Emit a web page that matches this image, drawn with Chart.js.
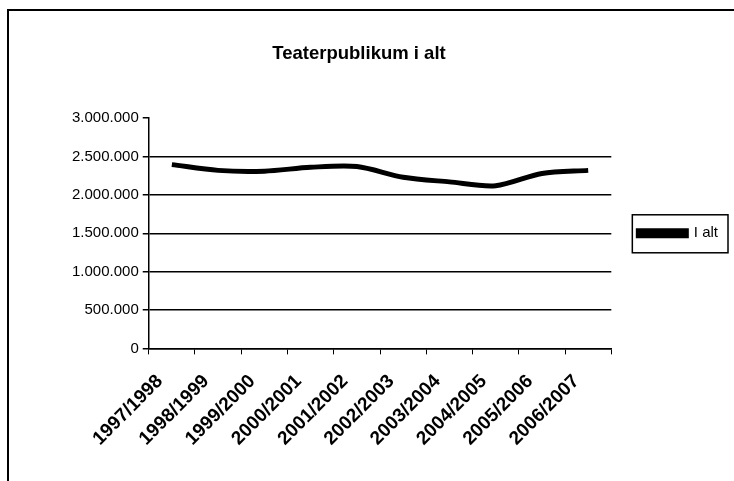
<!DOCTYPE html>
<html>
<head>
<meta charset="utf-8">
<script src="https://cdn.jsdelivr.net/npm/chart.js@4"></script>
<style>
    html, body { margin: 0; padding: 0; background: #fff; }
    #wrap { position: relative; width: 734px; height: 481px; }
</style>
</head>
<body>
<div id="wrap"><canvas id="chart" width="734" height="481"></canvas></div>
<script>
    // sæsoner og publikumstal
    var seasons = ['1997/1998', '1998/1999', '1999/2000', '2000/2001', '2001/2002',
                   '2002/2003', '2003/2004', '2004/2005', '2005/2006', '2006/2007'];
    var publikum = [2395000, 2320000, 2310000, 2360000, 2370000,
                    2230000, 2170000, 2120000, 2280000, 2320000];
    var seriesName = 'I alt';
    var chartTitle = 'Teaterpublikum i alt';
    var yMax = 3000000;

    function formatDots(v) {
        return String(v).replace(/\B(?=(\d{3})+(?!\d))/g, '.');
    }

    // ramme rundt om diagram og forklaring
    var framePlugin = {
        id: 'frame',
        afterLayout: function(chart) {
            // titel centreres over hele rammen, ikke kun plotområdet
            var tb = chart.titleBlock;
            if (tb) {
                var shift = (tb.left + tb.right) / 2 - 359;
                tb.left -= shift;
                tb.right -= shift;
            }
            // forklaringen centreres lodret ud for plotområdet
            var lg = chart.legend;
            var area = chart.chartArea;
            if (lg && area) {
                var d = (lg.top + lg.bottom) / 2 - (area.top + area.bottom) / 2;
                lg.top -= d;
                lg.bottom -= d;
            }
        },
        beforeDraw: function(chart) {
            var ctx = chart.ctx;
            ctx.save();
            ctx.fillStyle = '#fff';
            ctx.fillRect(0, 0, chart.width, chart.height);
            ctx.strokeStyle = '#000';
            ctx.lineWidth = 2;
            ctx.beginPath();
            ctx.moveTo(8, chart.height);
            ctx.lineTo(8, 10);
            ctx.lineTo(chart.width, 10);
            ctx.stroke();
            ctx.restore();
        },
        afterDraw: function(chart) {
            var lg = chart.legend;
            if (!lg || !lg.legendHitBoxes.length) return;
            var hb = lg.legendHitBoxes[0];
            var ctx = chart.ctx;
            ctx.save();
            ctx.strokeStyle = '#000';
            ctx.lineWidth = 1.5;
            ctx.strokeRect(hb.left - 6, hb.top - 11, hb.width + 16, 38);
            ctx.restore();
        }
    };

    new Chart(document.getElementById('chart'), {
        type: 'line',
        data: {
            labels: seasons,
            datasets: [{
                label: seriesName,
                data: publikum,
                borderColor: '#000',
                backgroundColor: '#000',
                borderWidth: 5,
                pointRadius: 0,
                tension: 0.3,
                fill: false
            }]
        },
        options: {
            responsive: false,
            animation: false,
            layout: {
                padding: { left: 68, right: 6, top: 43, bottom: 15 }
            },
            plugins: {
                title: {
                    display: true,
                    text: chartTitle,
                    color: '#000',
                    font: { family: 'Liberation Sans', size: 18.5, weight: 'bold' },
                    padding: { top: 0, bottom: 53 }
                },
                legend: {
                    position: 'right',
                    labels: {
                        color: '#000',
                        font: { family: 'Liberation Sans', size: 15 },
                        boxWidth: 48,
                        boxHeight: 5,
                        padding: 27
                    }
                },
                tooltip: { enabled: false }
            },
            scales: {
                x: {
                    offset: true,
                    grid: {
                        offset: true,
                        drawOnChartArea: false,
                        color: '#000',
                        tickLength: 6
                    },
                    border: { color: '#000', width: 1.5 },
                    ticks: {
                        color: '#000',
                        font: { family: 'Liberation Sans', size: 19, weight: 'bold' },
                        minRotation: 45,
                        maxRotation: 45,
                        padding: 16,
                        labelOffset: -12
                    }
                },
                y: {
                    min: 0,
                    max: yMax,
                    grid: {
                        color: function(c) {
                            return c.tick && c.tick.value === yMax ? 'rgba(0,0,0,0)' : '#000';
                        },
                        tickColor: '#000',
                        lineWidth: 1.5,
                        tickLength: 6
                    },
                    border: { color: '#000', width: 1.5 },
                    ticks: {
                        stepSize: 500000,
                        color: '#000',
                        font: { family: 'Liberation Sans', size: 15 },
                        padding: 4,
                        callback: function(v) { return formatDots(v); }
                    }
                }
            }
        },
        plugins: [framePlugin]
    });
</script>
</body>
</html>
